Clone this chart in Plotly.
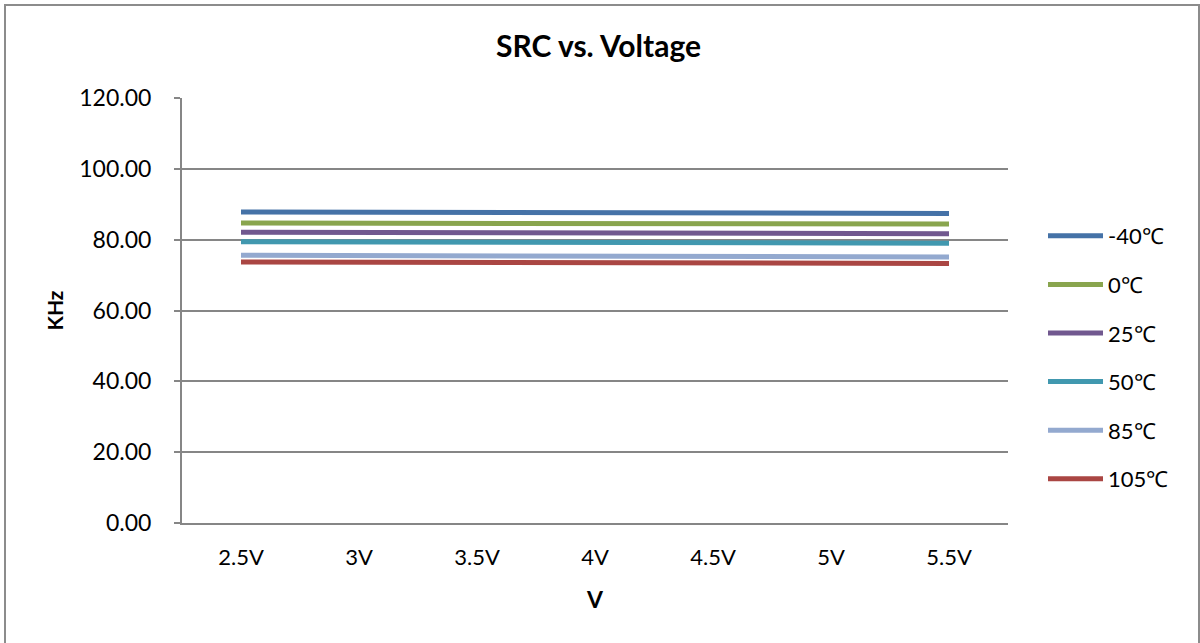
import plotly.graph_objects as go

voltages = ["2.5V", "3V", "3.5V", "4V", "4.5V", "5V", "5.5V"]

temp_labels = ["-40℃", "0℃", "25℃", "50℃", "85℃", "105℃"]
khz_m40 = [87.8, 87.7, 87.7, 87.6, 87.5, 87.5, 87.4]
khz_0 = [84.7, 84.7, 84.6, 84.5, 84.5, 84.4, 84.4]
khz_25 = [82.1, 82.0, 82.0, 81.9, 81.8, 81.8, 81.7]
khz_50 = [79.4, 79.3, 79.2, 79.1, 79.1, 79.0, 79.0]
khz_85 = [75.6, 75.5, 75.4, 75.3, 75.3, 75.2, 75.1]
khz_105 = [73.7, 73.6, 73.5, 73.5, 73.4, 73.4, 73.3]

y_ticks = [0, 20, 40, 60, 80, 100, 120]

series = [khz_m40, khz_0, khz_25, khz_50, khz_85, khz_105]
colors = ["#4572A7", "#89A54E", "#71588F", "#4198AF", "#93A9CF", "#AA4643"]

FONT = "Lato, 'Open Sans', sans-serif"

fig = go.Figure()
for name, vals, color in zip(temp_labels, series, colors):
    fig.add_trace(
        go.Scatter(
            x=voltages,
            y=vals,
            mode="lines",
            name=name,
            legendgroup=name,
            line=dict(color=color, width=5),
        )
    )

# plot area in pixels: x 182..1008, y 98..523
L, R, T, B = 182, 192, 98, 120
pw, ph = 1200 - L - R, 643 - T - B


def px_x(x):
    return (x - L) / pw


def px_y(y):
    return (643 - B - y) / ph


fig.update_layout(
    width=1200,
    height=643,
    margin=dict(l=L, r=R, t=T, b=B),
    paper_bgcolor="white",
    plot_bgcolor="white",
    font=dict(family=FONT, size=22, color="black"),
    title=dict(
        text="<b>SRC vs. Voltage</b>",
        x=px_x(594),
        xanchor="center",
        y=1 - 46 / 643,
        yanchor="middle",
        font=dict(size=30, family=FONT),
    ),
    xaxis=dict(
        type="category",
        range=[-0.5, 6.5],
        showgrid=False,
        showline=True,
        linecolor="#868686",
        linewidth=2,
        ticks="",
        ticklabelstandoff=14,
        tickfont=dict(size=22),
        title=dict(text="<b>V</b>", font=dict(size=23), standoff=22),
    ),
    yaxis=dict(
        range=[0, 120],
        tickvals=y_ticks,
        tickformat=".2f",
        showgrid=True,
        gridcolor="#868686",
        gridwidth=1.5,
        showline=True,
        linecolor="#868686",
        linewidth=2,
        ticks="outside",
        ticklen=6,
        tickcolor="#868686",
        tickwidth=2,
        ticklabelstandoff=18,
        tickfont=dict(size=23),
        zeroline=False,
        title=dict(text="<b>KHz</b>", font=dict(size=21), standoff=10),
    ),
    legend=dict(
        x=px_x(1043),
        xanchor="left",
        y=px_y(215),
        yanchor="top",
        font=dict(size=22),
        itemwidth=55,
        tracegroupgap=17,
        bgcolor="rgba(0,0,0,0)",
    ),
    shapes=[
        dict(
            type="rect",
            xref="paper",
            yref="paper",
            x0=px_x(5),
            x1=px_x(1199),
            y0=px_y(700),
            y1=px_y(5),
            line=dict(color="#8C8C8C", width=2),
            layer="below",
        )
    ],
)

fig.write_html(
    "out.html",
    config={"displayModeBar": False},
    post_script="document.body.style.margin='0';",
)
